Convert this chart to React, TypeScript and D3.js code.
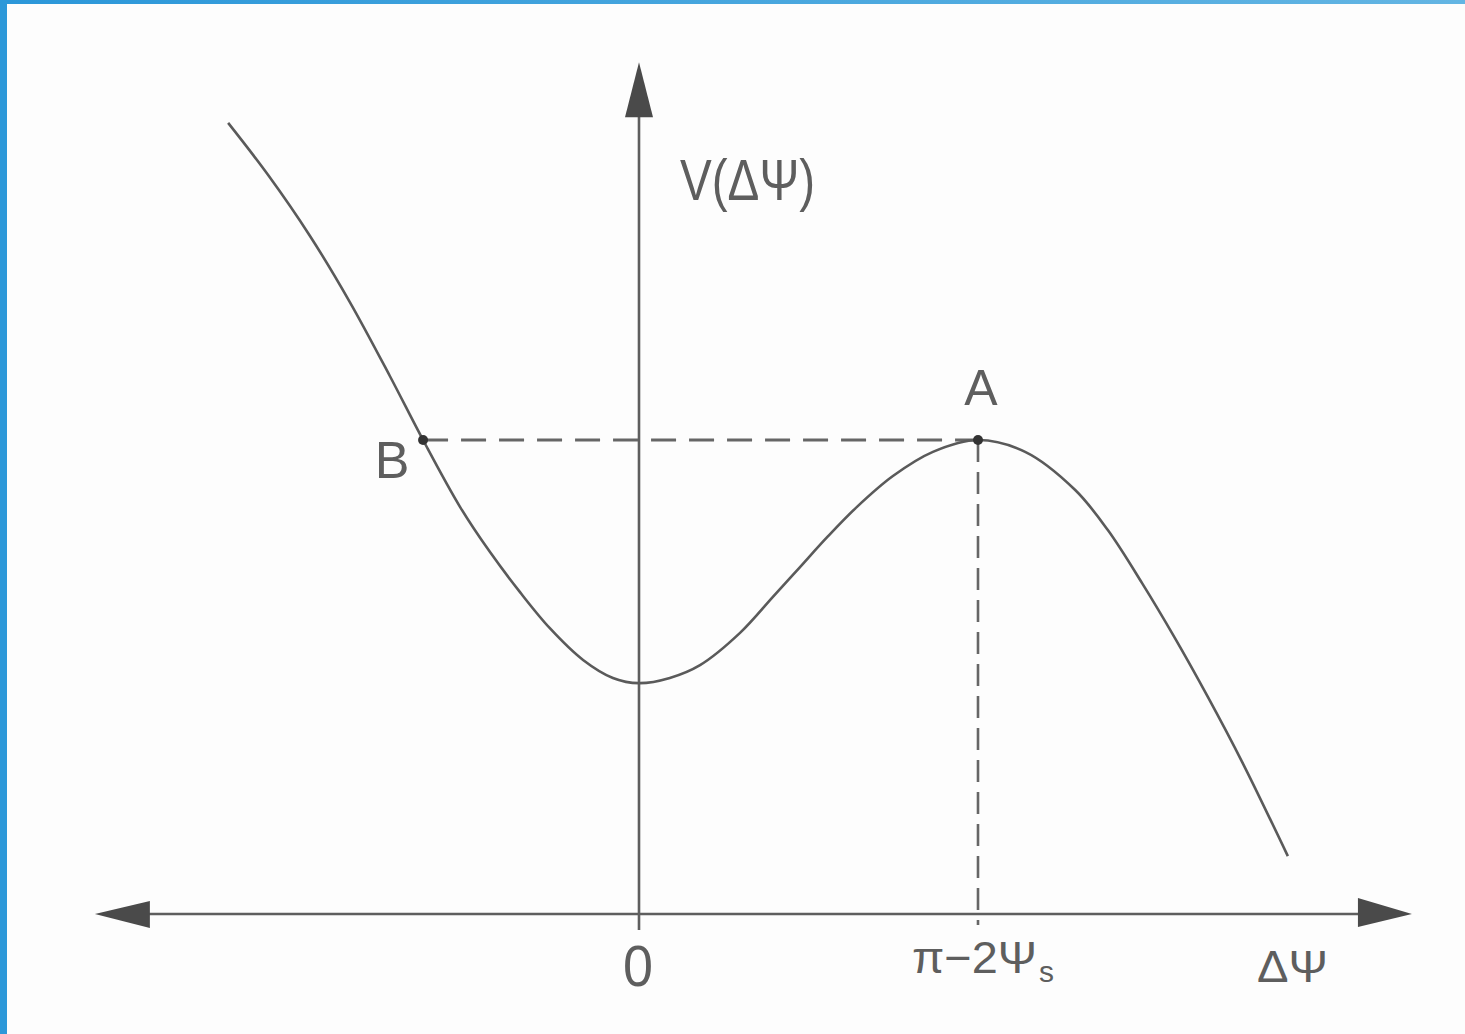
import React from "react";
import * as d3 from "d3";

// Curve V(ΔΨ): ΔΨ in units of (π − 2Ψs), V normalised so that V(A) = 1
const curveX = [-1.212, -1.094, -0.971, -0.853, -0.735, -0.637, -0.528, -0.44, -0.351, -0.263, -0.165, -0.077, 0, 0.091, 0.18, 0.298, 0.395, 0.475, 0.555, 0.643, 0.749, 0.867, 1, 1.139, 1.286, 1.383, 1.484, 1.581, 1.678, 1.779, 1.914];
const curveV = [1.669, 1.559, 1.431, 1.291, 1.135, 1.0, 0.859, 0.764, 0.679, 0.603, 0.536, 0.498, 0.487, 0.498, 0.525, 0.593, 0.669, 0.732, 0.795, 0.859, 0.924, 0.975, 1.0, 0.975, 0.895, 0.81, 0.698, 0.582, 0.458, 0.321, 0.122];

// Marked points
const pointNames = ["B", "A"];
const pointX = [-0.637, 1];
const pointV = [1, 1];

// Axis extents (data units)
const xAxisExtent = [-1.605, 2.28];
const yAxisExtent = [-0.034, 1.797];

// Tick labels
const tickValues = [0, 1];
const tickLabels = ["0", "π−2Ψ"];
const xAxisLabel = "ΔΨ";
const yAxisLabel = "V(ΔΨ)";

const W = 1465;
const H = 1034;

export default function App() {
  const x = d3.scaleLinear().domain([0, 1]).range([639, 978]);
  const y = d3.scaleLinear().domain([0, 1]).range([914, 440]);

  const data = curveX.map((v, i) => [v, curveV[i]] as [number, number]);
  const line = d3
    .line<[number, number]>()
    .x((d) => x(d[0]))
    .y((d) => y(d[1]))
    .curve(d3.curveCatmullRom.alpha(0.5));

  const axisColor = "#5e5e5e";
  const textColor = "#5e5e5e";
  const font = "'Liberation Sans', Arial, sans-serif";

  const x0 = x(0);
  const y0 = y(0);
  const xl = x(xAxisExtent[0]);
  const xr = x(xAxisExtent[1]);
  const yt = y(yAxisExtent[1]);
  const yb = y(yAxisExtent[0]);

  const ax = x(pointX[1]);
  const ay = y(pointV[1]);
  const bx = x(pointX[0]);

  return (
    <svg
      width={W}
      height={H}
      style={{ position: "absolute", left: 0, top: 0, display: "block", background: "#fdfdfd" }}
    >
      <defs>
        <linearGradient id="topBar" x1="0" x2="1" y1="0" y2="0">
          <stop offset="0" stopColor="#2b97d9" />
          <stop offset="1" stopColor="#63b5e3" />
        </linearGradient>
      </defs>
      <rect x={0} y={0} width={W} height={H} fill="#fdfdfd" />
      {/* frame */}
      <rect x={0} y={0} width={W} height={4} fill="url(#topBar)" />
      <rect x={0} y={0} width={7} height={H} fill="#2c98d9" />

      {/* horizontal axis */}
      <line x1={xl + 40} x2={xr - 40} y1={y0} y2={y0} stroke={axisColor} strokeWidth={2.6} />
      <path d={`M${xl},${y0} L${xl + 55},${y0 - 13} L${xl + 55},${y0 + 14} Z`} fill="#4a4a4a" />
      <path d={`M${xr},${y0} L${xr - 54},${y0 - 16} L${xr - 54},${y0 + 13} Z`} fill="#4a4a4a" />

      {/* vertical axis */}
      <line x1={x0} x2={x0} y1={yt + 40} y2={yb} stroke={axisColor} strokeWidth={2.6} />
      <path d={`M${x0},${yt} L${x0 - 14},${yt + 55} L${x0 + 14},${yt + 55} Z`} fill="#4a4a4a" />

      {/* dashed guides */}
      <line x1={bx} x2={ax} y1={ay} y2={ay} stroke="#666" strokeWidth={3} strokeDasharray="25 13" />
      <line x1={ax} x2={ax} y1={ay} y2={y0 + 11} stroke="#666" strokeWidth={2.6} strokeDasharray="22 10" />

      {/* curve */}
      <path d={line(data) || ""} fill="none" stroke="#5a5a5a" strokeWidth={2.6} />

      {/* points */}
      {pointX.map((px, i) => (
        <circle key={pointNames[i]} cx={x(px)} cy={y(pointV[i])} r={5} fill="#333" />
      ))}

      {/* point labels */}
      <text x={bx - 31} y={ay + 38} fontFamily={font} fontSize={52} fill={textColor} textAnchor="middle">
        {pointNames[0]}
      </text>
      <text x={ax + 3} y={ay - 35} fontFamily={font} fontSize={50} fill={textColor} textAnchor="middle">
        {pointNames[1]}
      </text>

      {/* y axis label */}
      <text x={x0 + 41} y={200} fontFamily={font} fontSize={58} fill={textColor} textLength={135} lengthAdjust="spacingAndGlyphs">
        {yAxisLabel}
      </text>

      {/* tick labels */}
      <text x={x(tickValues[0]) - 1} y={986} fontFamily={font} fontSize={58} fill={textColor} textAnchor="middle" textLength={30} lengthAdjust="spacingAndGlyphs">
        {tickLabels[0]}
      </text>
      <text x={x(tickValues[1]) - 66} y={973} fontFamily={font} fontSize={44} fill={textColor} textLength={125} lengthAdjust="spacingAndGlyphs">
        {tickLabels[1]}
      </text>
      <text x={x(tickValues[1]) + 61} y={982} fontFamily={font} fontSize={30} fill={textColor}>
        s
      </text>

      {/* x axis label */}
      <text x={1257} y={982} fontFamily={font} fontSize={44} fill={textColor} textLength={71} lengthAdjust="spacingAndGlyphs">
        {xAxisLabel}
      </text>
    </svg>
  );
}
